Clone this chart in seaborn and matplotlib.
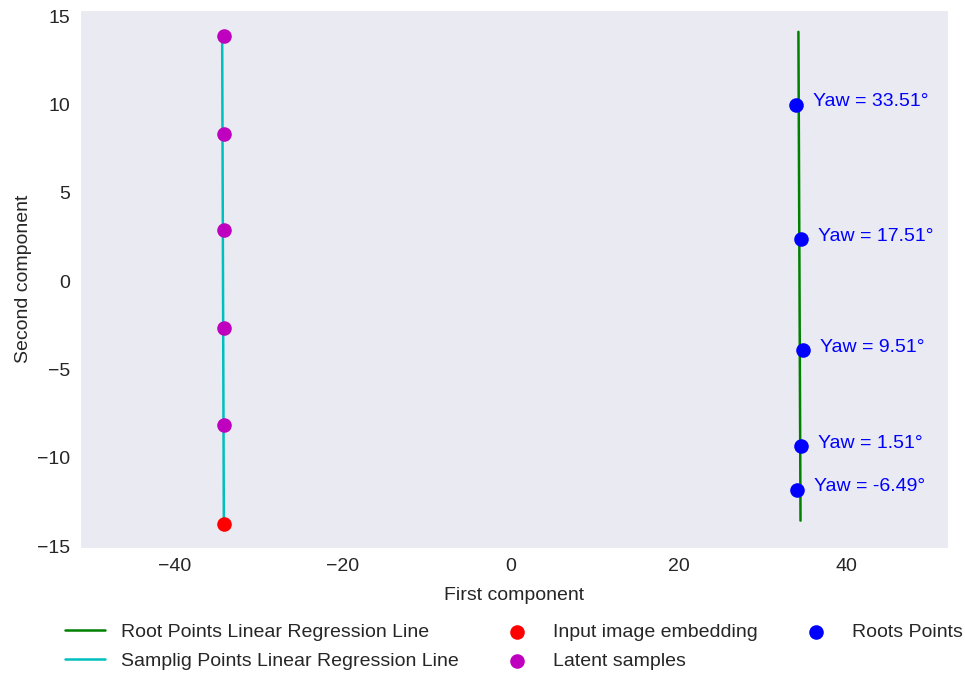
import numpy as np
import pandas as pd
import matplotlib
matplotlib.use('Agg')
import matplotlib.pyplot as plt
import seaborn as sns

sns.set_style('dark')
plt.rcParams['font.family'] = ['Liberation Sans', 'DejaVu Sans']

# latent samples (magenta) and input embedding (red)
latent_x = [-34.1, -34.1, -34.1, -34.1, -34.1]
latent_y = [13.9, 8.36, 2.88, -2.66, -8.14]
input_x = [-34.1]
input_y = [-13.73]

# root points (blue) with yaw labels
root_x = [34.0, 34.6, 34.8, 34.6, 34.1]
root_y = [10.0, 2.37, -3.9, -9.32, -11.8]
yaw = [33.51, 17.51, 9.51, 1.51, -6.49]

# regression line end points
root_line_x = [34.25, 34.5]
root_line_y = [14.12, -13.56]
samp_line_x = [-34.3, -34.1]
samp_line_y = [13.9, -13.73]

fs = 14

fig, ax = plt.subplots(figsize=(9.65, 6.73), dpi=100)
fig.subplots_adjust(left=0.083, right=0.982, top=0.985, bottom=0.186)

sns.lineplot(x=root_line_x, y=root_line_y, color='g', lw=1.8, sort=False, estimator=None,
             label='Root Points Linear Regression Line', ax=ax)
sns.lineplot(x=samp_line_x, y=samp_line_y, color='c', lw=1.8, sort=False, estimator=None,
             label='Samplig Points Linear Regression Line', ax=ax)
sns.scatterplot(x=input_x, y=input_y, color='r', s=110, linewidth=0, zorder=3,
                label='Input image embedding', ax=ax)
sns.scatterplot(x=latent_x, y=latent_y, color='m', s=110, linewidth=0, zorder=3,
                label='Latent samples', ax=ax)
sns.scatterplot(x=root_x, y=root_y, color='b', s=110, linewidth=0, zorder=3,
                label='Roots Points', ax=ax)

for x, y, a in zip(root_x, root_y, yaw):
    ax.text(x + 2, y - 0.1, f'Yaw = {a:.2f}°', color='b', fontsize=fs)

ax.set_xlim(-51.2, 52)
ax.set_ylim(-15.1, 15.35)
ax.set_xlabel('First component', fontsize=fs, labelpad=9)
ax.set_ylabel('Second component', fontsize=fs)
ax.tick_params(labelsize=fs)

ax.legend(loc='upper center', bbox_to_anchor=(0.5, -0.108), ncol=3, frameon=False,
          fontsize=fs, columnspacing=2.0, handlelength=2.05, labelspacing=0.6)

plt.savefig('out.png')
